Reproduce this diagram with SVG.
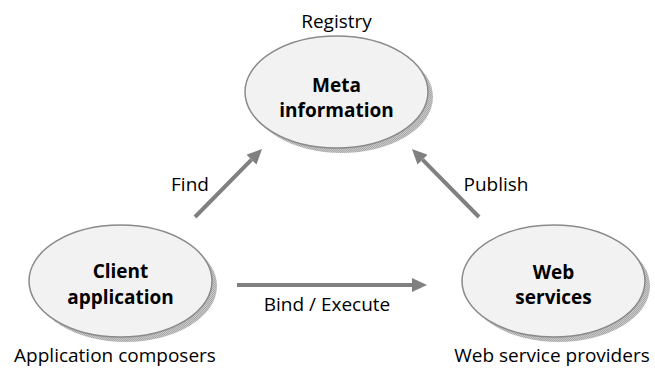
<svg xmlns="http://www.w3.org/2000/svg" width="655" height="369" viewBox="0 0 655 369">
<defs>
<pattern id="hatch" width="2" height="2" patternUnits="userSpaceOnUse">
<rect width="2" height="2" fill="#c8c8c8"/>
<rect width="1" height="1" fill="#a9a9a9"/>
<rect x="1" y="1" width="1" height="1" fill="#a9a9a9"/>
</pattern>
<marker id="ah" markerUnits="userSpaceOnUse" viewBox="0 0 15 14" markerWidth="15" markerHeight="14" refX="0" refY="7" orient="auto">
<path d="M0,0 L15,7 L0,14 z" fill="#808080"/>
</marker>
</defs>
<style>
.shadow{fill:url(#hatch);}
.node{fill:#f2f2f2;stroke:#8a8a8a;stroke-width:1.5;}
.nl{font-family:"Open Sans","Noto Sans",sans-serif;font-weight:bold;font-size:19px;fill:#000;text-anchor:middle;}
.lbl{font-family:"Open Sans","Noto Sans",sans-serif;font-size:19px;fill:#000;text-anchor:middle;}
.conn{stroke:#808080;stroke-width:4;fill:none;marker-end:url(#ah);}
</style>
<rect width="655" height="369" fill="#ffffff"/>
<g id="meta">
<ellipse class="shadow" cx="341.5" cy="97" rx="91.5" ry="56"/>
<ellipse class="node" cx="336.5" cy="92" rx="91.5" ry="56"/>
<text class="lbl" x="336.5" y="28">Registry</text>
<text class="nl" x="336.5" y="92">Meta</text>
<text class="nl" x="336.5" y="117">information</text>
</g>
<g id="client">
<ellipse class="shadow" cx="125.5" cy="286" rx="91.5" ry="56"/>
<ellipse class="node" cx="120.5" cy="281" rx="91.5" ry="56"/>
<text class="nl" x="120.5" y="278">Client</text>
<text class="nl" x="120.5" y="304">application</text>
<text class="lbl" x="115" y="362">Application composers</text>
</g>
<g id="web">
<ellipse class="shadow" cx="558.5" cy="286" rx="91.5" ry="56"/>
<ellipse class="node" cx="553.5" cy="281" rx="91.5" ry="56"/>
<text class="nl" x="553.5" y="279">Web</text>
<text class="nl" x="553.5" y="304">services</text>
<text class="lbl" x="552" y="362">Web service providers</text>
</g>
<g id="connectors">
<line class="conn" x1="195" y1="217" x2="251.5" y2="159.7"/>
<line class="conn" x1="479" y1="217" x2="422.5" y2="159.7"/>
<line class="conn" x1="237" y1="285" x2="412" y2="285"/>
<text class="lbl" x="190" y="191">Find</text>
<text class="lbl" x="496" y="191">Publish</text>
<text class="lbl" x="327" y="311">Bind / Execute</text>
</g>
</svg>
